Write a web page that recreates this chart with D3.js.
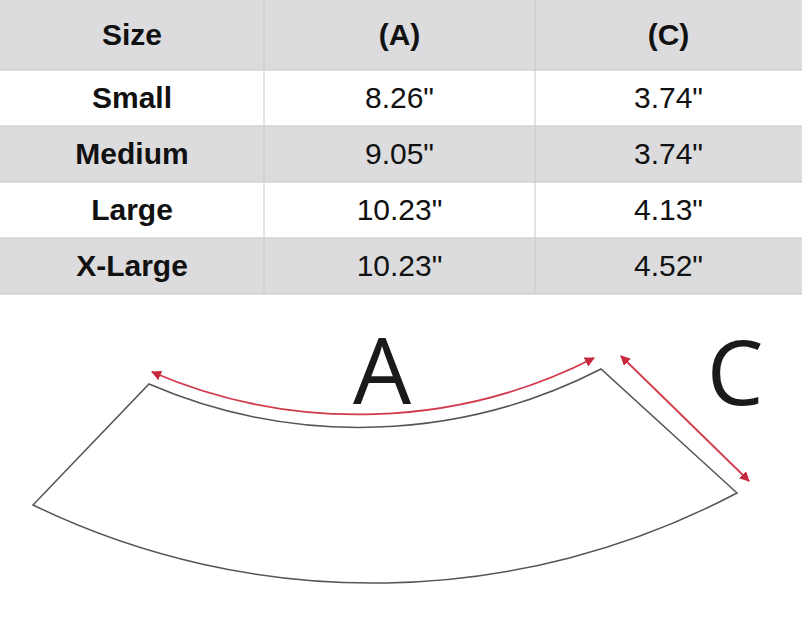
<!DOCTYPE html>
<html><head><meta charset="utf-8">
<script src="https://cdn.jsdelivr.net/npm/d3@7"></script>
<style>body{margin:0;background:#fff}</style>
</head><body>
<svg id="c" width="802" height="625"></svg>
<script>
// Dados da tabela
const cabecalho = ["Size", "(A)", "(C)"];
const tamanhos = ["Small", "Medium", "Large", "X-Large"];
const medidaA = ['8.26"', '9.05"', '10.23"', '10.23"'];
const medidaC = ['3.74"', '3.74"', '4.13"', '4.52"'];

const svg = d3.select("#c");
const W = 802;
const colX = d3.scaleOrdinal().domain([0,1,2]).range([0,264,535]);
const colW = [264,271,267];
const rowY = d3.scaleLinear().domain([0,1]).range([70,126]);
const rowH = 56;

// Cabeçalho
svg.append("rect").attr("x",0).attr("y",0).attr("width",W).attr("height",70).attr("fill","#dcdcde");
cabecalho.forEach((t,i) => {
  svg.append("text").attr("x",colX(i)+colW[i]/2).attr("y",37)
    .attr("text-anchor","middle").attr("dominant-baseline","middle")
    .attr("font-family","Liberation Sans, Arial").attr("font-weight","bold")
    .attr("font-size",30).attr("fill","#111").text(t);
});

// Linhas
tamanhos.forEach((s,r) => {
  const y = rowY(r);
  svg.append("rect").attr("x",0).attr("y",y).attr("width",W).attr("height",rowH)
    .attr("fill", r%2 ? "#dcdcde" : "#fff");
  [s, medidaA[r], medidaC[r]].forEach((t,i) => {
    svg.append("text").attr("x",colX(i)+colW[i]/2).attr("y",y+rowH/2+2)
      .attr("text-anchor","middle").attr("dominant-baseline","middle")
      .attr("font-family","Liberation Sans, Arial").attr("font-weight", i===0 ? "bold" : "normal")
      .attr("font-size",30).attr("fill","#111").text(t);
  });
});

// Bordas
[70,126,182,238,294].forEach(y => svg.append("line").attr("x1",0).attr("x2",W).attr("y1",y).attr("y2",y)
  .attr("stroke","#c8c8ca").attr("stroke-width",1));
[264,535].forEach(x => svg.append("line").attr("x1",x).attr("x2",x).attr("y1",0).attr("y2",294)
  .attr("stroke","#c8c8ca").attr("stroke-width",1));

// Círculo por três pontos
function raio(p1,p2,p3){
  const [ax,ay]=p1,[bx,by]=p2,[cx,cy]=p3;
  const d=2*(ax*(by-cy)+bx*(cy-ay)+cx*(ay-by));
  const ux=((ax*ax+ay*ay)*(by-cy)+(bx*bx+by*by)*(cy-ay)+(cx*cx+cy*cy)*(ay-by))/d;
  const uy=((ax*ax+ay*ay)*(cx-bx)+(bx*bx+by*by)*(ax-cx)+(cx*cx+cy*cy)*(bx-ax))/d;
  return Math.hypot(ax-ux,ay-uy);
}
function arco(p1,pm,p2){
  const r=raio(p1,pm,p2);
  return `A${r},${r} 0 0 0 ${p2[0]},${p2[1]}`;
}

// Forma do diagrama
const topo = [[149,384],[380,427],[601,369]];
const base = [[33,505],[380,583],[737,493]];
const d = `M${topo[0]} ${arco(...topo)} L${base[2]} ` +
  `A${raio(...base)},${raio(...base)} 0 0 1 ${base[0]} Z`;
svg.append("path").attr("d",d).attr("fill","#fff").attr("stroke","#555").attr("stroke-width",1.5);

// Setas
const defs = svg.append("defs");
defs.append("marker").attr("id","ar").attr("viewBox","0 0 10 10").attr("refX",9).attr("refY",5)
  .attr("markerWidth",10).attr("markerHeight",10).attr("markerUnits","userSpaceOnUse").attr("orient","auto-start-reverse")
  .append("path").attr("d","M0,0L10,5L0,10Z").attr("fill","#c8283c");
const setaA = [[152,372],[380,414],[594,358]];
svg.append("path").attr("d",`M${setaA[0]} ${arco(...setaA)}`).attr("fill","none")
  .attr("stroke","#d23a4e").attr("stroke-width",1.8)
  .attr("marker-start","url(#ar)").attr("marker-end","url(#ar)");
svg.append("line").attr("x1",621).attr("y1",356).attr("x2",749).attr("y2",481)
  .attr("stroke","#d23a4e").attr("stroke-width",1.8)
  .attr("marker-start","url(#ar)").attr("marker-end","url(#ar)");

// Letras
svg.append("text").attr("x",382).attr("y",404).attr("text-anchor","middle")
  .attr("font-family","Open Sans, Liberation Sans").attr("font-size",92).attr("fill","#1a1a1a").text("A");
svg.append("text").attr("x",735).attr("y",405).attr("text-anchor","middle")
  .attr("font-family","Open Sans, Liberation Sans").attr("font-size",90).attr("fill","#1a1a1a").text("C");
</script>
</body></html>
